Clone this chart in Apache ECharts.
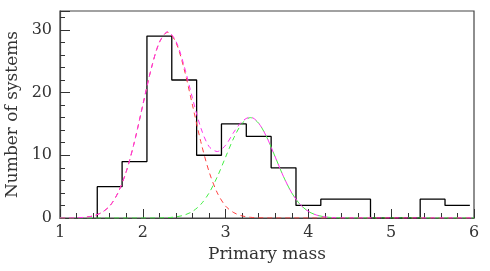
<!DOCTYPE html>
<html><head><meta charset="utf-8">
<script src="https://cdn.jsdelivr.net/npm/echarts@6/dist/echarts.min.js"></script>
<style>html,body{margin:0;padding:0;background:#fff}#c{width:490px;height:271px}</style>
</head><body><div id="c"></div>
<script>
// Histogram: bin edges and counts
var binEdges = [1.45,1.75,2.05,2.35,2.65,2.95,3.25,3.55,3.85,4.15,4.45,4.75,5.05,5.35,5.65,5.95];
var counts   = [5,9,29,22,10,15,13,8,2,3,3,0,0,3,2];
// Curves sampled at these masses
var curveX = [1.0,1.1,1.2,1.3,1.4,1.5,1.6,1.7,1.8,1.9,2.0,2.1,2.2,2.3,2.4,2.5,2.6,2.7,2.8,2.9,3.0,3.1,3.2,3.3,3.4,3.5,3.6,3.7,3.8,3.9,4.0,4.1,4.2,4.3,4.4,4.5,4.6,4.7,4.8,4.9,5.0,5.1,5.2,5.3,5.4,5.5,5.6,5.7,5.8,5.9,6.0];
var redCurve = [0,0.01,0.04,0.11,0.33,0.85,1.9,4.0,7.4,12.2,18.0,23.7,28.0,29.6,28.0,23.7,18.0,12.2,7.4,4.0,1.9,0.85,0.33,0.11,0.04,0.01,
  0,0,0,0,0,0,0,0,0,0,0,0,0,0,0,0,0,0,0,0,0,0,0,0,0];
var greenCurve = [0,0,0,0,0,0,0,0,0,0,0,0,0.02,0.06,0.18,0.46,1.05,2.16,3.98,6.58,9.71,12.8,15.1,16.0,15.1,12.8,9.71,6.58,3.98,2.16,1.05,0.46,0.18,0.06,0.02,
  0,0,0,0,0,0,0,0,0,0,0,0,0,0,0,0];
var sumCurve = [0,0.01,0.04,0.11,0.33,0.85,1.9,4.0,7.4,12.2,18.0,23.7,28.0,29.7,28.2,24.2,19.1,14.4,11.4,10.6,11.6,13.7,15.4,16.1,15.1,12.8,9.71,6.58,3.98,2.16,1.05,0.46,0.18,0.06,0.02,
  0,0,0,0,0,0,0,0,0,0,0,0,0,0,0,0];
var xTicks = [1,2,3,4,5,6];
var yTicks = [0,10,20,30];

var histPts = [[binEdges[0], 0]];
for (var i = 0; i < counts.length; i++) histPts.push([binEdges[i+1], counts[i]]);
function pairs(xs, ys){ return xs.map(function(x,i){return [x, ys[i]];}); }

var font = 'DejaVu Serif';
var txt = '#333';
var chart = echarts.init(document.getElementById('c'), null, {renderer:'canvas'});
chart.setOption({
  animation: false,
  grid: {left: 60, right: 16, top: 11, bottom: 53, containLabel: false, outerBoundsMode: 'none',
    show: true, borderColor: '#444', borderWidth: 1.2, backgroundColor: 'transparent'},
  xAxis: {
    type: 'value', min: xTicks[0], max: xTicks[xTicks.length-1], interval: 1,
    name: 'Primary mass', nameLocation: 'middle', nameGap: 25,
    nameTextStyle: {fontFamily: font, fontSize: 17, color: txt},
    axisLine: {show: true, onZero: false, lineStyle: {color: '#444', width: 1.2}},
    axisTick: {show: true, inside: true, length: 9, lineStyle: {color: '#333'}},
    minorTick: {show: true, splitNumber: 5, length: 5, lineStyle: {color: '#333'}},
    splitLine: {show: false},
    axisLabel: {fontFamily: font, fontSize: 16, color: txt, margin: 7}
  },
  yAxis: {
    type: 'value', min: 0, max: 33, interval: 10,
    name: 'Number of systems', nameLocation: 'middle', nameGap: 38,
    nameTextStyle: {fontFamily: font, fontSize: 17, color: txt},
    axisLine: {show: true, lineStyle: {color: '#444', width: 1.2}},
    axisTick: {show: true, inside: true, length: 10, lineStyle: {color: '#333'}},
    minorTick: {show: true, splitNumber: 5, length: 5, lineStyle: {color: '#333'}},
    splitLine: {show: false},
    axisLabel: {fontFamily: font, fontSize: 16, color: txt, margin: 8, showMaxLabel: false,
      formatter: function(v){ return yTicks.indexOf(v) >= 0 ? String(v) : ''; }}
  },
  series: [
    {type: 'line', data: histPts, step: 'start', symbol: 'none', lineStyle: {color: '#000', width: 1.3}, z: 3},
    {type: 'line', data: pairs(curveX, redCurve), smooth: 0.3, symbol: 'none', lineStyle: {color: '#ff4040', width: 1, type: [5,4]}, z: 4},
    {type: 'line', data: pairs(curveX, greenCurve), smooth: 0.3, symbol: 'none', lineStyle: {color: '#44ee44', width: 1, type: [5,4]}, z: 4},
    {type: 'line', data: pairs(curveX, sumCurve), smooth: 0.3, symbol: 'none', lineStyle: {color: '#ff33ee', width: 1, type: [5,4]}, z: 5}
  ]
});
</script></body></html>
